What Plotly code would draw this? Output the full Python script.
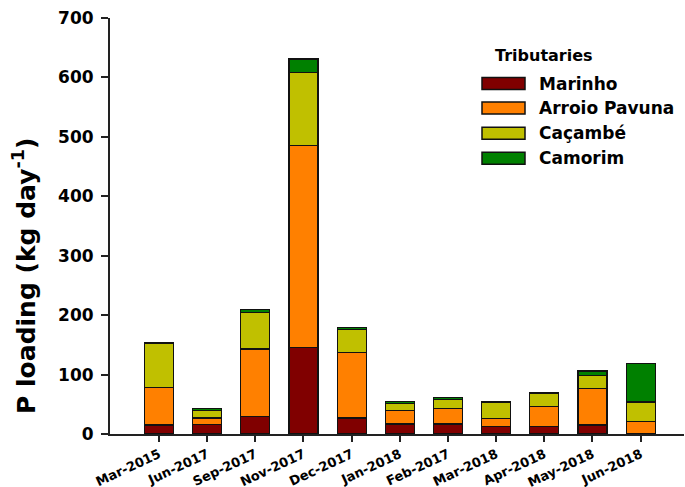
import plotly.graph_objects as go

months = ["Mar-2015", "Jun-2017", "Sep-2017", "Nov-2017", "Dec-2017", "Jan-2018",
          "Feb-2017", "Mar-2018", "Apr-2018", "May-2018", "Jun-2018"]
marinho = [15, 16, 29, 145, 27, 17, 17, 13, 13, 15, 0]
arroio_pavuna = [63, 11, 114, 340, 110, 23, 26, 13, 33, 62, 21]
cacambe = [75, 13, 61, 123, 39, 12, 15, 28, 22, 22, 33]
camorim = [0, 3, 5, 23, 3, 3, 4, 1, 2, 7, 64]

series_names = ["Marinho", "Arroio Pavuna", "Caçambé", "Camorim"]
series_values = [marinho, arroio_pavuna, cacambe, camorim]
series_colors = ["#800000", "#FF8000", "#C0C000", "#008000"]

FONT = "DejaVu Sans"

fig = go.Figure()
for name, vals, col in zip(series_names, series_values, series_colors):
    fig.add_trace(go.Bar(
        x=months, y=vals, name=name, width=0.6,
        marker=dict(color=col, line=dict(color="#111111", width=1.2)),
        showlegend=False,
    ))

# custom legend (paper coordinates)
W, H = 685, 487
L, R, T, B = 110, 1, 18, 53
pw, ph = W - L - R, H - T - B

def px(xp):
    return (xp - L) / pw

def py(yp):
    return (H - B - yp) / ph

shapes = []
annotations = []
row_centers = [83.5, 108, 133.3, 158.3]
for name, col, yc in zip(series_names, series_colors, row_centers):
    shapes.append(dict(type="rect", xref="paper", yref="paper",
                       x0=px(482), x1=px(525), y0=py(yc + 6), y1=py(yc - 6),
                       fillcolor=col, line=dict(color="#111111", width=1.5)))
    annotations.append(dict(xref="paper", yref="paper", x=px(537), y=py(yc),
                            xanchor="left", yanchor="middle", showarrow=False,
                            text=name, font=dict(family=FONT, size=17, color="black", weight="bold")))
annotations.append(dict(xref="paper", yref="paper", x=px(544), y=py(55),
                        xanchor="center", yanchor="middle", showarrow=False,
                        text="Tributaries", font=dict(family=FONT, size=16, color="black", weight="bold")))
annotations.append(dict(xref="paper", yref="paper", x=px(24), y=py(276),
                        xanchor="center", yanchor="middle", showarrow=False, textangle=-90,
                        text="P loading (kg day<sup>-1</sup>)",
                        font=dict(family=FONT, size=25, color="black", weight="bold")))

fig.update_layout(
    template="none",
    barmode="stack",
    width=W, height=H,
    margin=dict(l=L, r=R, t=T, b=B, pad=0, autoexpand=False),
    paper_bgcolor="white", plot_bgcolor="white",
    shapes=shapes, annotations=annotations,
    xaxis=dict(
        automargin=False,
        range=[-1.017, 10.9], showgrid=False, zeroline=False,
        showline=True, linecolor="#222222", linewidth=2,
        ticks="outside", ticklen=6, tickwidth=1.5, tickcolor="#222222",
        tickangle=-25,
        tickfont=dict(family=FONT, size=13, color="black", weight="bold"),
    ),
    yaxis=dict(
        automargin=False,
        range=[0, 700], tickvals=[0, 100, 200, 300, 400, 500, 600, 700],
        showgrid=False, zeroline=False,
        showline=True, linecolor="#222222", linewidth=2,
        ticks="outside", ticklen=7, tickwidth=1.5, tickcolor="#222222",
        ticklabelstandoff=4,
        tickfont=dict(family=FONT, size=17, color="black", weight="bold"),
    ),
)

fig.write_html("out.html",
               config={"displayModeBar": False},
               post_script="document.body.style.margin='0';document.body.style.overflow='hidden';")
